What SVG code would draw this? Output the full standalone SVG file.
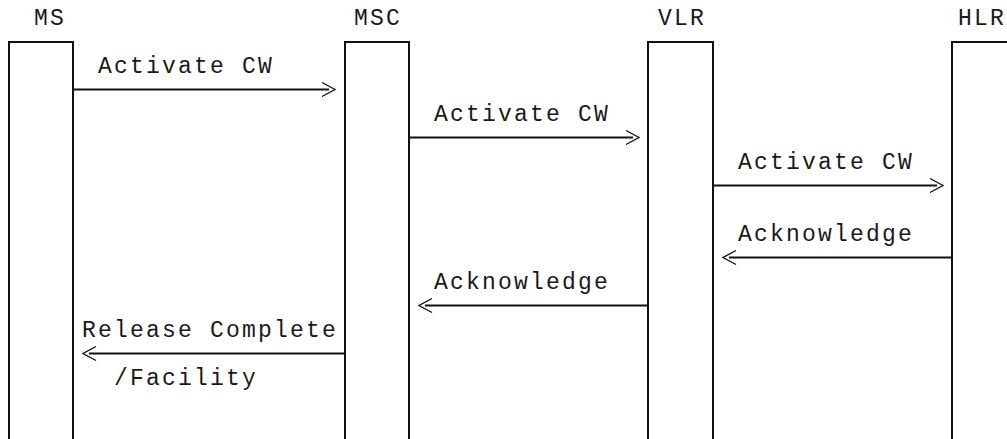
<svg xmlns="http://www.w3.org/2000/svg" width="1007" height="439" viewBox="0 0 1007 439">
  <style>
    .bg { fill: #ffffff; }
    .txt { font-family: "Liberation Mono", "DejaVu Sans Mono", monospace; font-size: 23px; letter-spacing: 2.2px; fill: #1a1a1a; }
    .life { fill: none; stroke: #111111; stroke-width: 2; stroke-linejoin: miter; stroke-linecap: butt; }
    .msg { stroke: #111111; stroke-width: 2; }
    .tip { fill: none; stroke: #111111; stroke-width: 1.4; stroke-linejoin: miter; }
  </style>
  <rect class="bg" x="0" y="0" width="1007" height="439"/>

  <!-- lifelines: header label plus open-bottomed box -->
  <g id="node-ms">
    <text class="txt" x="34" y="25">MS</text>
    <path class="life" d="M9,439 V42 H73 V439"/>
  </g>
  <g id="node-msc">
    <text class="txt" x="354" y="25">MSC</text>
    <path class="life" d="M345,439 V42 H409 V439"/>
  </g>
  <g id="node-vlr">
    <text class="txt" x="658" y="25">VLR</text>
    <path class="life" d="M648,439 V42 H713 V439"/>
  </g>
  <g id="node-hlr">
    <text class="txt" x="958" y="25">HLR</text>
    <path class="life" d="M952,439 V42 H1016 V439"/>
  </g>

  <!-- messages -->
  <g id="connectors">
    <g id="msg-ms-msc">
      <text class="txt" x="98" y="73">Activate CW</text>
      <line class="msg" x1="73" y1="89.5" x2="329" y2="89.5"/>
      <polyline class="tip" points="322,82.5 335,89.5 322,96.5"/>
    </g>
    <g id="msg-msc-vlr">
      <text class="txt" x="434" y="121">Activate CW</text>
      <line class="msg" x1="409" y1="137.5" x2="633" y2="137.5"/>
      <polyline class="tip" points="626,130.5 639,137.5 626,144.5"/>
    </g>
    <g id="msg-vlr-hlr">
      <text class="txt" x="738" y="169">Activate CW</text>
      <line class="msg" x1="713" y1="185.5" x2="937" y2="185.5"/>
      <polyline class="tip" points="930,178.5 943,185.5 930,192.5"/>
    </g>
    <g id="msg-hlr-vlr">
      <text class="txt" x="738" y="241">Acknowledge</text>
      <line class="msg" x1="729" y1="257.5" x2="952" y2="257.5"/>
      <polyline class="tip" points="736,250.5 723,257.5 736,264.5"/>
    </g>
    <g id="msg-vlr-msc">
      <text class="txt" x="434" y="289">Acknowledge</text>
      <line class="msg" x1="425" y1="305.5" x2="648" y2="305.5"/>
      <polyline class="tip" points="432,298.5 419,305.5 432,312.5"/>
    </g>
    <g id="msg-msc-ms">
      <text class="txt" x="82" y="337">Release Complete</text>
      <line class="msg" x1="89" y1="353.5" x2="345" y2="353.5"/>
      <polyline class="tip" points="96,346.5 83,353.5 96,360.5"/>
      <text class="txt" x="114" y="385">/Facility</text>
    </g>
  </g>
</svg>
